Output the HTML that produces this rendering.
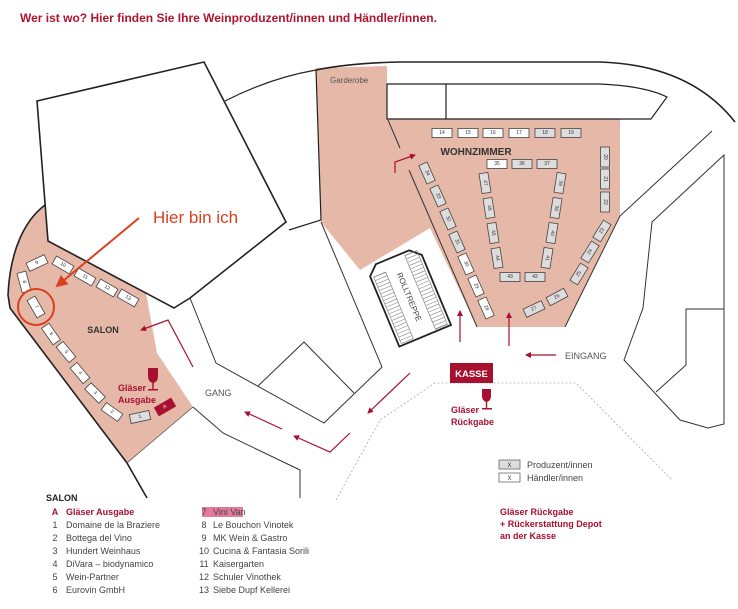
<!DOCTYPE html>
<html><head><meta charset="utf-8"><style>
html,body{margin:0;padding:0;background:#fff;}
svg{display:block;font-family:"Liberation Sans",Arial,sans-serif;}
.t{font-size:5px;fill:#333;text-anchor:middle;dominant-baseline:central;}
</style></head><body>
<svg width="738" height="609" viewBox="0 0 738 609" xmlns="http://www.w3.org/2000/svg">
<defs>
<marker id="ar" markerWidth="6" markerHeight="6" refX="5" refY="3" orient="auto" markerUnits="userSpaceOnUse"><path d="M0,0 L6,3 L0,6 z" fill="#a8102f"/></marker>
<marker id="ar2" markerWidth="12" markerHeight="12" refX="10" refY="6" orient="auto" markerUnits="userSpaceOnUse"><path d="M0,0 L12,6 L0,12 z" fill="#d9411e"/></marker>
<g id="tb"><rect x="-10" y="-4.5" width="20" height="9" stroke="#444" stroke-width="0.8"/></g>
</defs>
<text x="20" y="22" font-size="12" font-weight="bold" fill="#b0152f">Wer ist wo? Hier finden Sie Ihre Weinproduzent/innen und Händler/innen.</text>

<path d="M45,205 C25,220 10,250 8,295 L10,308 L127,463 L193,407 L157,353 L146,293 L48,241 Z" fill="#e5b8a8"/>
<path d="M45,205 C25,220 10,250 8,295 L10,308 L127,463 L147,498" fill="none" stroke="#222" stroke-width="1.6"/>
<path d="M127,463 L193,407" stroke="#555" stroke-width="0.8" fill="none"/>
<path d="M316,68 L387,66 L387,119 L620,119 L620,216 L565,327 L477,327 L430,228 L360,270 L321,222 Z" fill="#e5b8a8"/>

<path d="M37,101 L204,62 L286,222 L190,298 L174,308 L48,241 Z" fill="#fff" stroke="#222" stroke-width="1.6"/>
<path d="M225,101 Q270,78 316,70 L321,220 L289,230" fill="none" stroke="#222" stroke-width="1.2"/>
<path d="M316,70 Q350,63 400,62 L600,62 Q690,65 735,122" fill="none" stroke="#222" stroke-width="1.6"/>
<path d="M387,84 L600,84 Q645,86 667,97 L651,119 L387,119 Z" fill="#fff" stroke="#222" stroke-width="1.2"/>
<line x1="446" y1="84" x2="446" y2="119" stroke="#222" stroke-width="1.2"/>
<line x1="388" y1="120" x2="400" y2="148" stroke="#333" stroke-width="1"/>
<line x1="409" y1="170" x2="477" y2="327" stroke="#333" stroke-width="1"/>
<path d="M565,327 L620,216 L712,131" fill="none" stroke="#333" stroke-width="1"/>
<path d="M724,155 L652,222 L643,308 L624,360 L680,420 L708,428 L724,424 Z" fill="#fff" stroke="#333" stroke-width="1"/>
<path d="M724,309 L686,309 L686,365 L656,392" fill="none" stroke="#333" stroke-width="1"/>

<path d="M190,298 L216,363 L324,423 L382,367 L321,222" fill="none" stroke="#333" stroke-width="1"/>
<path d="M258,386 L304,342 L354,393" fill="none" stroke="#333" stroke-width="1"/>
<path d="M193,407 L223,433 L300,470 L300,498" fill="none" stroke="#333" stroke-width="1"/>

<!-- Rolltreppe -->
<g transform="translate(409,297) rotate(-22.6)">
<path d="M-28,-34 L-18,-43 L18,-43 L28,-34 L28,42 L-28,42 Z" fill="#fff" stroke="#222" stroke-width="1.8"/>
<rect x="-25" y="-32" width="13" height="72" fill="none" stroke="#777" stroke-width="0.6"/>
<rect x="12" y="-40" width="13" height="80" fill="none" stroke="#777" stroke-width="0.6"/>
<line x1="-18.5" y1="-32" x2="-18.5" y2="40" stroke="#888" stroke-width="13" stroke-dasharray="0.6,3"/>
<line x1="18.5" y1="-40" x2="18.5" y2="40" stroke="#888" stroke-width="13" stroke-dasharray="0.6,3"/>
<text x="0" y="0" font-size="8" fill="#444" text-anchor="middle" dominant-baseline="central" transform="rotate(90)">ROLLTREPPE</text>
</g>

<path d="M336,500 L380,420 L435,383 L576,383 L672,480" fill="none" stroke="#aaa" stroke-width="0.8" stroke-dasharray="2,2"/>

<g stroke="#a8102f" stroke-width="1.2" fill="none">
<path d="M193,367 L168,320 L141,330" marker-end="url(#ar)"/>
<path d="M410,373 L368,413" marker-end="url(#ar)"/>
<path d="M282,429 L245,412" marker-end="url(#ar)"/>
<path d="M350,433 L330,452 L294,436" marker-end="url(#ar)"/>
<path d="M460,342 L460,311" marker-end="url(#ar)"/>
<path d="M509,346 L509,313" marker-end="url(#ar)"/>
<path d="M556,355 L526,355" marker-end="url(#ar)"/>
<path d="M395,173 L395,162 L415,155" marker-end="url(#ar)"/>
</g>

<g fill="#fff">
<g transform="translate(37,263) rotate(-25)"><use href="#tb"/><text class="t">9</text></g>
<g transform="translate(63,265) rotate(30)"><use href="#tb"/><text class="t">10</text></g>
<g transform="translate(85,277) rotate(30)"><use href="#tb"/><text class="t">11</text></g>
<g transform="translate(107,288) rotate(30)"><use href="#tb"/><text class="t">12</text></g>
<g transform="translate(128,298) rotate(30)"><use href="#tb"/><text class="t">13</text></g>
<g transform="translate(24,282) rotate(75)"><use href="#tb"/><text class="t">8</text></g>
<g transform="translate(36,307) rotate(60)"><use href="#tb"/><text class="t">7</text></g>
<g transform="translate(51,334) rotate(55)"><use href="#tb"/><text class="t">6</text></g>
<g transform="translate(66,352) rotate(50)"><use href="#tb"/><text class="t">5</text></g>
<g transform="translate(80,373) rotate(50)"><use href="#tb"/><text class="t">4</text></g>
<g transform="translate(95,393) rotate(45)"><use href="#tb"/><text class="t">3</text></g>
<g transform="translate(112,412) rotate(35)"><use href="#tb"/><text class="t">2</text></g>
</g>
<g transform="translate(140,417) rotate(-12)" fill="#ddd"><use href="#tb"/><text class="t">1</text></g>
<g transform="translate(165,407) rotate(-30)"><rect x="-10" y="-5" width="20" height="10" fill="#a8102f"/><text class="t" style="fill:#fff">A</text></g>

<text x="103" y="333" font-size="9" font-weight="bold" fill="#333" text-anchor="middle">SALON</text>
<g fill="#a8102f"><path d="M148,368 L158,368 L158,376 Q158,382 153,383 Q148,382 148,376 Z"/><rect x="152.3" y="382" width="1.4" height="7"/><rect x="148" y="389" width="10" height="1.5"/></g>
<text x="118" y="391" font-size="9" font-weight="bold" fill="#a8102f">Gläser</text>
<text x="118" y="403" font-size="9" font-weight="bold" fill="#a8102f">Ausgabe</text>
<text x="205" y="396" font-size="9" fill="#555">GANG</text>
<text x="330" y="83" font-size="8" fill="#555">Garderobe</text>

<circle cx="36" cy="307" r="18" fill="none" stroke="#d9411e" stroke-width="2"/>
<line x1="139" y1="218" x2="57" y2="286" stroke="#d9411e" stroke-width="2" marker-end="url(#ar2)"/>
<text x="153" y="223" font-size="17" fill="#d9411e">Hier bin ich</text>

<g fill="#fff">
<g transform="translate(442,133)"><use href="#tb"/><text class="t">14</text></g>
<g transform="translate(468,133)"><use href="#tb"/><text class="t">15</text></g>
<g transform="translate(493,133)"><use href="#tb"/><text class="t">16</text></g>
<g transform="translate(519,133)"><use href="#tb"/><text class="t">17</text></g>
<g transform="translate(497,164)"><use href="#tb"/><text class="t">35</text></g>
<g transform="translate(466,264) rotate(66)"><use href="#tb"/><text class="t">30</text></g>
<g transform="translate(476,286) rotate(66)"><use href="#tb"/><text class="t">29</text></g>
<g transform="translate(486,308) rotate(66)"><use href="#tb"/><text class="t">28</text></g>
</g>
<g fill="#ddd">
<g transform="translate(545,133)"><use href="#tb"/><text class="t">18</text></g>
<g transform="translate(571,133)"><use href="#tb"/><text class="t">19</text></g>
<g transform="translate(605,157) rotate(90)"><use href="#tb"/><text class="t">20</text></g>
<g transform="translate(605,179) rotate(90)"><use href="#tb"/><text class="t">21</text></g>
<g transform="translate(605,202) rotate(90)"><use href="#tb"/><text class="t">22</text></g>
<g transform="translate(522,164)"><use href="#tb"/><text class="t">36</text></g>
<g transform="translate(547,164)"><use href="#tb"/><text class="t">37</text></g>
<g transform="translate(427,173) rotate(66)"><use href="#tb"/><text class="t">34</text></g>
<g transform="translate(438,196) rotate(66)"><use href="#tb"/><text class="t">33</text></g>
<g transform="translate(448,219) rotate(66)"><use href="#tb"/><text class="t">32</text></g>
<g transform="translate(457,242) rotate(66)"><use href="#tb"/><text class="t">31</text></g>
<g transform="translate(485,183) rotate(81)"><use href="#tb"/><text class="t">47</text></g>
<g transform="translate(489,208) rotate(81)"><use href="#tb"/><text class="t">46</text></g>
<g transform="translate(493,233) rotate(81)"><use href="#tb"/><text class="t">45</text></g>
<g transform="translate(497,258) rotate(81)"><use href="#tb"/><text class="t">44</text></g>
<g transform="translate(560,183) rotate(99)"><use href="#tb"/><text class="t">39</text></g>
<g transform="translate(556,208) rotate(99)"><use href="#tb"/><text class="t">38</text></g>
<g transform="translate(552,233) rotate(99)"><use href="#tb"/><text class="t">40</text></g>
<g transform="translate(547,258) rotate(99)"><use href="#tb"/><text class="t">41</text></g>
<g transform="translate(510,277)"><use href="#tb"/><text class="t">43</text></g>
<g transform="translate(535,277)"><use href="#tb"/><text class="t">42</text></g>
<g transform="translate(602,231) rotate(-58)"><use href="#tb"/><text class="t">23</text></g>
<g transform="translate(590,252) rotate(-58)"><use href="#tb"/><text class="t">24</text></g>
<g transform="translate(579,274) rotate(-58)"><use href="#tb"/><text class="t">25</text></g>
<g transform="translate(557,297) rotate(-28)"><use href="#tb"/><text class="t">26</text></g>
<g transform="translate(534,309) rotate(-25)"><use href="#tb"/><text class="t">27</text></g>
</g>
<text x="476" y="155" font-size="10" font-weight="bold" fill="#333" text-anchor="middle">WOHNZIMMER</text>

<text x="565" y="359" font-size="9" fill="#555">EINGANG</text>
<rect x="450" y="363" width="43" height="20" fill="#a8102f"/>
<text x="471.5" y="377" font-size="9.5" font-weight="bold" fill="#fff" text-anchor="middle">KASSE</text>
<g fill="#a8102f"><path d="M482,389 L491,389 L491,396 Q491,401 486.5,402 Q482,401 482,396 Z"/><rect x="485.8" y="401" width="1.4" height="7"/><rect x="482" y="408" width="10" height="1.5"/></g>
<text x="451" y="413" font-size="9" font-weight="bold" fill="#a8102f">Gläser</text>
<text x="451" y="425" font-size="9" font-weight="bold" fill="#a8102f">Rückgabe</text>

<rect x="499" y="460" width="21" height="9" fill="#ddd" stroke="#555" stroke-width="0.7"/>
<text x="509.5" y="467" font-size="6" fill="#333" text-anchor="middle">X</text>
<text x="527" y="468" font-size="9" fill="#444">Produzent/innen</text>
<rect x="499" y="473" width="21" height="9" fill="#fff" stroke="#555" stroke-width="0.7"/>
<text x="509.5" y="480" font-size="6" fill="#333" text-anchor="middle">X</text>
<text x="527" y="481" font-size="9" fill="#444">Händler/innen</text>
<g font-size="9" font-weight="bold" fill="#a8102f">
<text x="500" y="515">Gläser Rückgabe</text>
<text x="500" y="527">+ Rückerstattung Depot</text>
<text x="500" y="539">an der Kasse</text>
</g>

<text x="46" y="501" font-size="9" font-weight="bold" fill="#222">SALON</text>
<g font-size="9" fill="#444">
<text x="55" y="515" font-weight="bold" fill="#a8102f" text-anchor="middle">A</text>
<text x="66" y="515" font-weight="bold" fill="#a8102f">Gläser Ausgabe</text>
<text x="55" y="528" text-anchor="middle">1</text><text x="66" y="528">Domaine de la Braziere</text>
<text x="55" y="541" text-anchor="middle">2</text><text x="66" y="541">Bottega del Vino</text>
<text x="55" y="554" text-anchor="middle">3</text><text x="66" y="554">Hundert Weinhaus</text>
<text x="55" y="567" text-anchor="middle">4</text><text x="66" y="567">DiVara – biodynamico</text>
<text x="55" y="580" text-anchor="middle">5</text><text x="66" y="580">Wein-Partner</text>
<text x="55" y="593" text-anchor="middle">6</text><text x="66" y="593">Eurovin GmbH</text>
<rect x="202" y="507" width="41" height="10" fill="#e27a9c"/>
<text x="204" y="515" text-anchor="middle">7</text><text x="213" y="515">Vini Van</text>
<text x="204" y="528" text-anchor="middle">8</text><text x="213" y="528">Le Bouchon Vinotek</text>
<text x="204" y="541" text-anchor="middle">9</text><text x="213" y="541">MK Wein &amp; Gastro</text>
<text x="204" y="554" text-anchor="middle">10</text><text x="213" y="554">Cucina &amp; Fantasia Sorili</text>
<text x="204" y="567" text-anchor="middle">11</text><text x="213" y="567">Kaisergarten</text>
<text x="204" y="580" text-anchor="middle">12</text><text x="213" y="580">Schuler Vinothek</text>
<text x="204" y="593" text-anchor="middle">13</text><text x="213" y="593">Siebe Dupf Kellerei</text>
</g>
</svg>
</body></html>
